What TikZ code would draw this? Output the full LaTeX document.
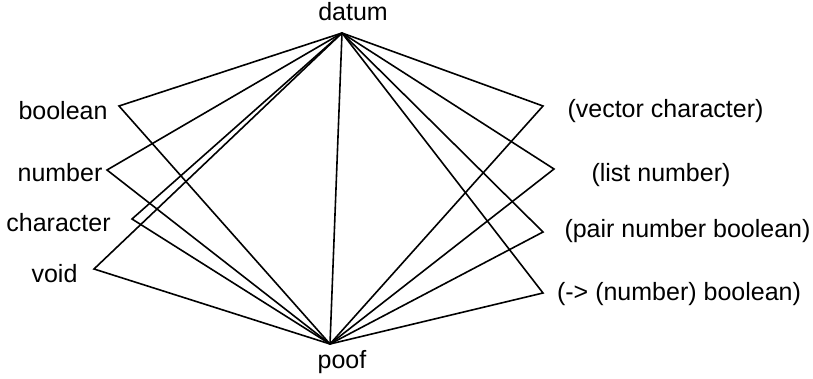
\documentclass[tikz,border=0pt]{standalone}
\usepackage{fontspec}
\setmainfont{Liberation Sans}
\begin{document}
\begin{tikzpicture}[x=1pt,y=-1pt,
  lbl/.style={inner sep=0pt,anchor=base,font=\fontsize{25}{29}\selectfont},
  edge/.style={line width=1.6pt,line join=miter}]
\useasboundingbox (0,0) rectangle (813,379);
% anchor points
\coordinate (pD) at (342,33);
\coordinate (pP) at (330,344);
\coordinate (pBo) at (119,106);
\coordinate (pNu) at (107,170);
\coordinate (pCh) at (132,219);
\coordinate (pVo) at (94,269);
\coordinate (pVe) at (543,106);
\coordinate (pLi) at (554,169);
\coordinate (pPa) at (543,232);
\coordinate (pAr) at (543,293);
% labels
\node[lbl] (datum) at (353,21) {datum};
\node[lbl] (poof) at (342,368) {poof};
\node[lbl] (boolean) at (63,120) {boolean};
\node[lbl] (number) at (60,182) {number};
\node[lbl] (character) at (58.5,232) {character};
\node[lbl] (void) at (54.5,282) {void};
\node[lbl] (vector) at (665.5,118) {(vector character)};
\node[lbl] (list) at (661,182) {(list number)};
\node[lbl] (pair) at (687.5,238) {(pair number boolean)};
\node[lbl] (arrow) at (679,300) {(-> (number) boolean)};
% connectors
\foreach \n in {pBo,pNu,pCh,pVo,pVe,pLi,pPa,pAr}{
  \draw[edge] (pD) -- (\n) -- (pP);
}
\draw[edge] (pD) -- (pP);
\end{tikzpicture}
\end{document}
